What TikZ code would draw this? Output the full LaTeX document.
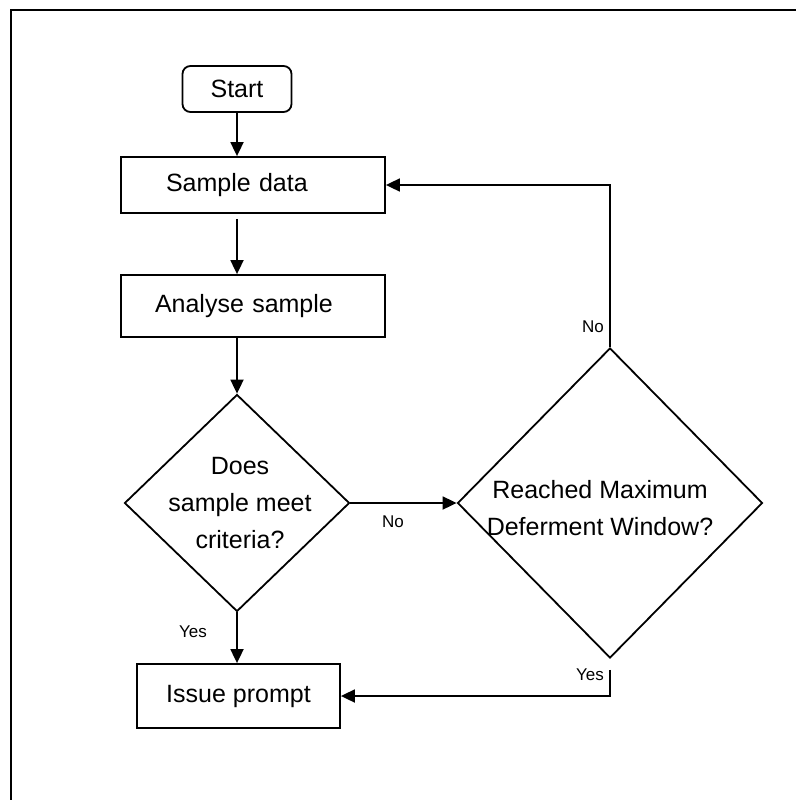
\documentclass[tikz,border=0pt]{standalone}
\usepackage{fontspec}
\setmainfont{Liberation Sans}
\usetikzlibrary{arrows.meta,shapes.geometric}

\begin{document}
\begin{tikzpicture}[x=1pt, y=-1pt,
    every node/.style={font=\fontsize{25}{37}\selectfont},
    box/.style={draw, line width=1.8pt, inner sep=0pt},
    decision/.style={draw, diamond, line width=1.8pt, inner sep=0pt},
    tag/.style={font=\fontsize{17}{20}\selectfont, inner sep=0pt},
    arr/.style={line width=1.8pt, -{Triangle[length=14pt, width=13pt]}}]
    \useasboundingbox (0,0) rectangle (795,800);

    % Frame
    \draw[line width=2.2pt] (11,805) -- (11,10) -- (800,10);

    % Boxes
    \node[box, rounded corners=8pt, minimum width=109, minimum height=46] (start) at (237,89) {Start};
    \node[box, minimum width=264, minimum height=56, text width=174, align=left, inner xsep=45pt] (data) at (253,185) {Sample data};
    \node[box, minimum width=264, minimum height=62, text width=196, align=left, inner xsep=34pt] (analyse) at (253,306) {Analyse sample};
    \node[box, minimum width=203, minimum height=64] (prompt) at (238.5,696) {Issue prompt};

    % Decisions
    \node[decision, minimum width=225, minimum height=217] (check) at (237,503) {};
    \node[align=center, inner sep=0pt] (checktxt) at (240,503) {Does\\sample meet\\criteria?};
    \node[decision, minimum width=305, minimum height=310] (reach) at (610,503) {};
    \node[align=center, inner sep=0pt] (reachtxt) at (600,508) {Reached Maximum\\Deferment Window?};

    % Main flow
    \draw[arr] (start.south) -- (start.south |- data.north);
    \draw[arr] ([yshift=-5pt]start.south |- data.south) -- (start.south |- analyse.north);
    \draw[arr] (start.south |- analyse.south) -- (check.north);
    \draw[arr] (check.south) -- (check.south |- prompt.north);
    \draw[arr] (check.east) -- (reach.west);

    % Loops back
    \draw[arr] (reach.north) |- (data.east);
    \draw[arr, shorten <=11pt] (reach.south) |- (prompt.east);

    % Labels
    \node[tag] (yes1) at (193,632) {Yes};
    \node[tag] (no1) at (393,522) {No};
    \node[tag] (no2) at (593,327) {No};
    \node[tag] (yes2) at (590,675) {Yes};

\end{tikzpicture}
\end{document}
